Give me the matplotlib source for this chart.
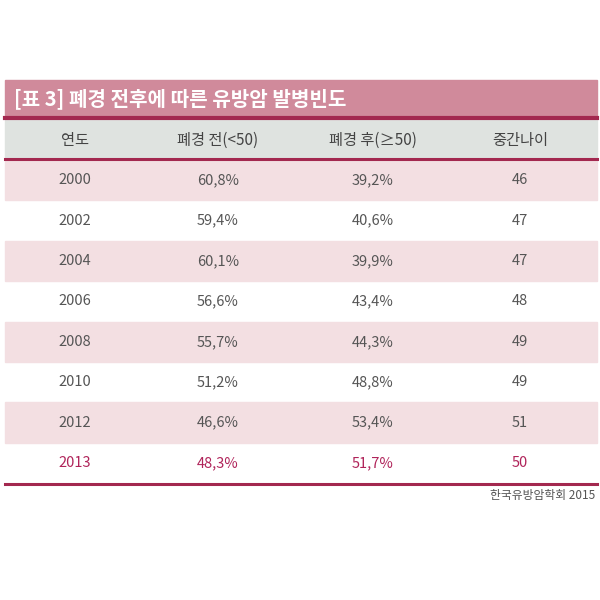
import matplotlib
matplotlib.use("Agg")
import matplotlib.pyplot as plt
from matplotlib.patches import Rectangle

plt.rcParams['font.family'] = ['Noto Sans CJK KR', 'DejaVu Sans']

title = "[표 3] 폐경 전후에 따른 유방암 발병빈도"
headers = ["연도", "폐경 전(<50)", "폐경 후(≥50)", "중간나이"]
years = ["2000", "2002", "2004", "2006", "2008", "2010", "2012", "2013"]
pre = ["60,8%", "59,4%", "60,1%", "56,6%", "55,7%", "51,2%", "46,6%", "48,3%"]
post = ["39,2%", "40,6%", "39,9%", "43,4%", "44,3%", "48,8%", "53,4%", "51,7%"]
median = ["46", "47", "47", "48", "49", "49", "51", "50"]
source = "한국유방암학회 2015"

fig = plt.figure(figsize=(6, 6), dpi=100)
ax = fig.add_axes([0, 0, 1, 1])
ax.set_xlim(0, 600); ax.set_ylim(600, 0); ax.axis('off')

L, R = 5, 597
dark = '#a3284f'
ax.add_patch(Rectangle((L, 80), R-L, 37, color='#d08a9b'))
ax.text(14, 99, title, color='white', fontsize=14.5, fontweight='bold', va='center', ha='left')
ax.plot([L, R], [118, 118], color=dark, lw=3)
ax.add_patch(Rectangle((L, 120), R-L, 38, color='#dfe3e0'))
xs = [75, 218, 373, 520]
for x, h in zip(xs, headers):
    ax.text(x, 140, h, ha='center', va='center', fontsize=11, color='#444444')
ax.plot([L, R], [159, 159], color=dark, lw=2.2)
rh = 40.4
for i, y in enumerate(years):
    top = 160 + i*rh
    if i % 2 == 0:
        ax.add_patch(Rectangle((L, top), R-L, rh, color='#f3dfe2'))
    last = i == len(years) - 1
    col = '#b0245a' if last else '#555555'
    for x, v in zip(xs, [y, pre[i], post[i], median[i]]):
        ax.text(x, top + rh/2, v, ha='center', va='center', fontsize=10.5, color=col)
ax.plot([L, R], [160 + 8*rh + 1, 160 + 8*rh + 1], color=dark, lw=2.2)
ax.text(595, 495, source, ha='right', va='center', fontsize=8.5, color='#555555')
fig.savefig('out.png', dpi=100)
